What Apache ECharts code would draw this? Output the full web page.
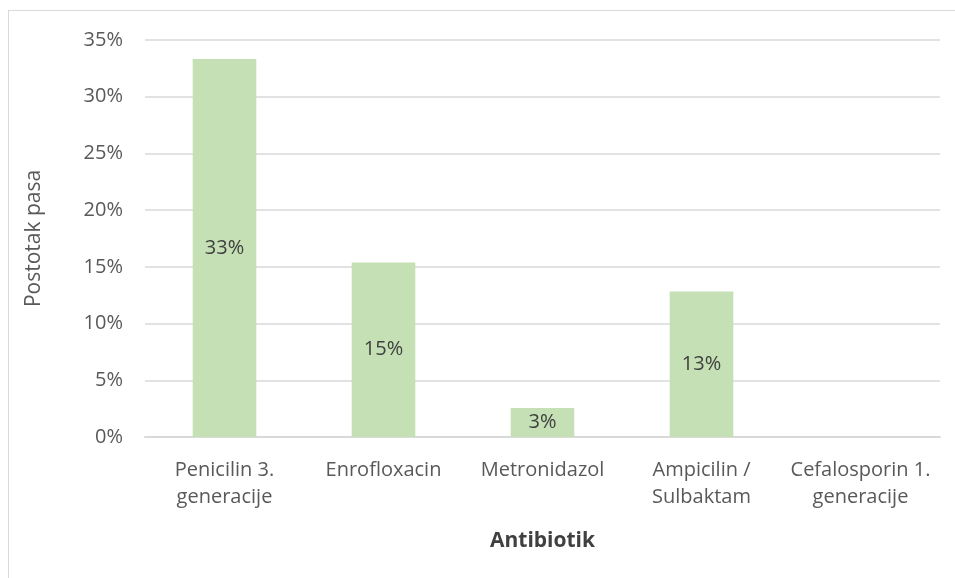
<!DOCTYPE html>
<html>
<head>
<meta charset="utf-8">
<script src="https://cdn.jsdelivr.net/npm/echarts@6/dist/echarts.min.js"></script>
<style>
  html, body { margin: 0; padding: 0; background: #fff; }
  #frame {
    position: absolute; left: 8px; top: 10px; width: 1000px; height: 620px;
    border: 1px solid #d9d9d9; box-sizing: border-box;
  }
  #chart { position: absolute; left: 0; top: 0; width: 955px; height: 578px; }
</style>
</head>
<body>
<div id="frame"></div>
<div id="chart"></div>
<script>
// kategorije i postoci (od 39 pasa)
const categories = [
  "Penicilin 3.\ngeneracije",
  "Enrofloxacin",
  "Metronidazol",
  "Ampicilin /\nSulbaktam",
  "Cefalosporin 1.\ngeneracije",
];
const values = [33.33, 15.38, 2.56, 12.82, 0];
const yTicks = [0, 5, 10, 15, 20, 25, 30, 35];

const font = "'Open Sans', 'Noto Sans', sans-serif";
const myChart = echarts.init(document.getElementById("chart"));

myChart.setOption({
  animation: false,
  grid: { left: 145, right: 15, top: 40, bottom: 141 },
  xAxis: {
    type: "category",
    data: categories,
    name: "Antibiotik",
    nameLocation: "middle",
    nameGap: 94,
    nameTextStyle: { color: "#404040", fontSize: 21, fontWeight: "bold", fontFamily: font },
    axisLine: { lineStyle: { color: "#d9d9d9", width: 2 } },
    axisTick: { show: false },
    axisLabel: {
      color: "#595959",
      fontSize: 20,
      fontFamily: font,
      lineHeight: 27,
      margin: 20,
      interval: 0,
    },
  },
  yAxis: {
    type: "value",
    min: yTicks[0],
    max: yTicks[yTicks.length - 1],
    interval: 5,
    name: "Postotak pasa",
    nameLocation: "middle",
    nameGap: 100,
    nameTextStyle: { color: "#595959", fontSize: 21, fontFamily: font },
    axisLine: { show: false },
    axisTick: { show: false },
    axisLabel: {
      color: "#595959",
      fontSize: 20,
      fontFamily: font,
      margin: 22,
      formatter: "{value}%",
    },
    splitLine: { lineStyle: { color: "#d9d9d9", width: 1.5 } },
  },
  series: [
    {
      type: "bar",
      data: values,
      barCategoryGap: "60%",
      itemStyle: { color: "#c5e0b4" },
      label: {
        show: true,
        position: "inside",
        color: "#404040",
        fontSize: 20,
        fontFamily: font,
        formatter: (p) => (p.value > 0 ? Math.round(p.value) + "%" : ""),
      },
    },
  ],
});

window.addEventListener("resize", myChart.resize);
</script>
</body>
</html>
